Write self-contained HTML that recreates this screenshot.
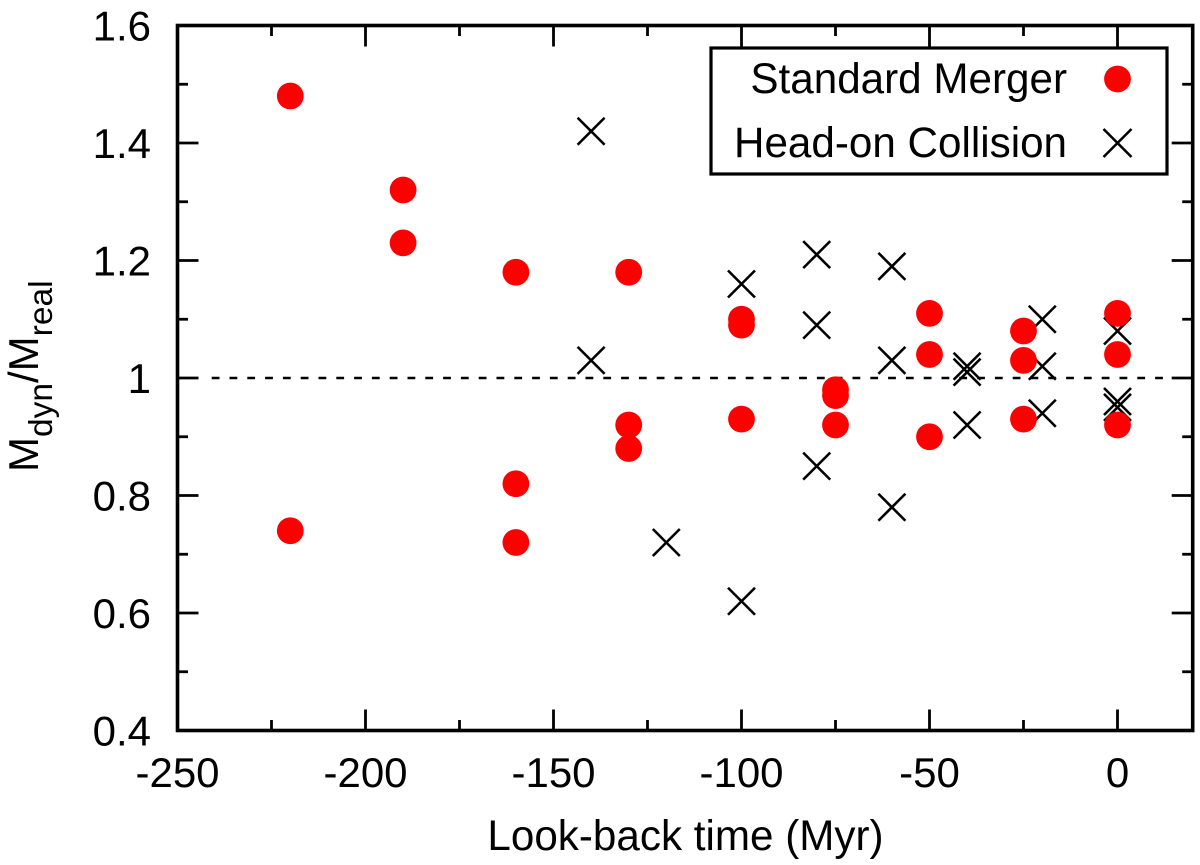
<!DOCTYPE html>
<html lang="en">
<head>
<meta charset="utf-8">
<title>Mdyn/Mreal vs look-back time</title>
<style>
html,body{margin:0;padding:0;background:#fff;}
svg{display:block;}
text{font-family:"Liberation Sans",Arial,Helvetica,sans-serif;fill:#000;}
</style>
</head>
<body>
<svg id="chart" xmlns="http://www.w3.org/2000/svg" width="1200" height="865" viewBox="0 0 1200 865">
  <rect x="0" y="0" width="1200" height="865" fill="#fff"/>
  <g id="ticks"></g>
  <line id="refline" stroke="#000" stroke-width="2.6" stroke-dasharray="7.8 10"/>
  <g id="cross-series"></g>
  <g id="dot-series"></g>
  <rect id="frame" fill="none" stroke="#000" stroke-width="3.6"/>
  <g id="labels" font-size="42"></g>
  <text x="685.5" y="850" font-size="42.2" text-anchor="middle">Look-back time (Myr)</text>
  <text transform="translate(38,472) rotate(-90)" font-size="42">M<tspan font-size="33.5" dy="14">dyn</tspan><tspan dy="-14">/M</tspan><tspan font-size="33.5" dy="14">real</tspan></text>
  <g>
    <rect x="711" y="48" width="456" height="126" fill="#fff" stroke="#000" stroke-width="3.2"/>
    <text x="1067" y="93" font-size="42.2" text-anchor="end">Standard Merger</text>
    <circle cx="1117.5" cy="79" r="13.4" fill="#f00"/>
    <text x="1067" y="157" font-size="42.2" text-anchor="end">Head-on Collision</text>
    <path d="M1103.5 129 L1131.5 157 M1131.5 129 L1103.5 157" stroke="#000" stroke-width="2.6" fill="none"/>
  </g>
</svg>
<script>
const xTickValues = [-250, -200, -150, -100, -50, 0];
const xTickLabels = ["-250", "-200", "-150", "-100", "-50", "0"];
const xMinorValues = [-225, -175, -125, -75, -25];
const yTickValues = [0.4, 0.6, 0.8, 1.0, 1.2, 1.4, 1.6];
const yTickLabels = ["0.4", "0.6", "0.8", "1", "1.2", "1.4", "1.6"];
const yMinorValues = [0.5, 0.7, 0.9, 1.1, 1.3, 1.5];

const mergerTimes = [-220, -220, -190, -190, -160, -160, -160, -130, -130, -130, -100, -100, -100, -75, -75, -75, -50, -50, -50, -25, -25, -25, 0, 0, 0];
const mergerRatios = [1.48, 0.74, 1.32, 1.23, 1.18, 0.82, 0.72, 1.18, 0.92, 0.88, 1.10, 1.09, 0.93, 0.98, 0.97, 0.92, 1.11, 1.04, 0.90, 1.08, 1.03, 0.93, 1.11, 1.04, 0.92];

const collisionTimes = [-140, -140, -120, -100, -100, -80, -80, -80, -60, -60, -60, -40, -40, -40, -20, -20, -20, 0, 0, 0];
const collisionRatios = [1.42, 1.03, 0.72, 1.16, 0.62, 1.21, 1.09, 0.85, 1.19, 1.03, 0.78, 1.02, 1.01, 0.92, 1.10, 1.02, 0.94, 1.08, 0.96, 0.95];

const xDomain = [-250, 20];
const yDomain = [0.4, 1.6];
const referenceRatio = 1;

const plot = { left: 177.5, right: 1192.7, top: 25.5, bottom: 730.5 };
function xScale(v) { return plot.left + (v - xDomain[0]) / (xDomain[1] - xDomain[0]) * (plot.right - plot.left); }
function yScale(v) { return plot.bottom - (v - yDomain[0]) / (yDomain[1] - yDomain[0]) * (plot.bottom - plot.top); }

const NS = "http://www.w3.org/2000/svg";
function make(tag, parent, attrs) {
  const el = document.createElementNS(NS, tag);
  for (const k in attrs) el.setAttribute(k, attrs[k]);
  parent.appendChild(el);
  return el;
}
function tickLine(parent, x1, y1, x2, y2) {
  const el = make("line", parent, { x1: x1, y1: y1, x2: x2, y2: y2, stroke: "#000", "stroke-width": 2.8 });
  
  
}

const frame = document.getElementById("frame");
frame.setAttribute("x", plot.left);
frame.setAttribute("y", plot.top);
frame.setAttribute("width", plot.right - plot.left);
frame.setAttribute("height", plot.bottom - plot.top);

const refline = document.getElementById("refline");
refline.setAttribute("x1", plot.left + 34.2);
refline.setAttribute("x2", plot.right - 21);
refline.setAttribute("y1", yScale(referenceRatio));
refline.setAttribute("y2", yScale(referenceRatio));

const ticks = document.getElementById("ticks");
const labels = document.getElementById("labels");
const majorLen = 21;
const minorLen = 10.5;

xTickValues.forEach(function (v, i) {
  const x = xScale(v);
  tickLine(ticks, x, plot.bottom, x, plot.bottom - majorLen);
  tickLine(ticks, x, plot.top, x, plot.top + majorLen);
  const t = make("text", labels, { x: x, y: 787, "text-anchor": "middle" });
  
  
  t.textContent = xTickLabels[i];
});
xMinorValues.forEach(function (v) {
  const x = xScale(v);
  tickLine(ticks, x, plot.bottom, x, plot.bottom - minorLen);
  tickLine(ticks, x, plot.top, x, plot.top + minorLen);
});
yTickValues.forEach(function (v, i) {
  const y = yScale(v);
  tickLine(ticks, plot.left, y, plot.left + majorLen, y);
  tickLine(ticks, plot.right, y, plot.right - majorLen, y);
  const t = make("text", labels, { x: 151, y: y + 15, "text-anchor": "end" });
  
  
  t.textContent = yTickLabels[i];
});
yMinorValues.forEach(function (v) {
  const y = yScale(v);
  tickLine(ticks, plot.left, y, plot.left + minorLen, y);
  tickLine(ticks, plot.right, y, plot.right - minorLen, y);
});

const crossGroup = document.getElementById("cross-series");
const crossHalf = 13.5;
collisionTimes.forEach(function (t, i) {
  const cx = xScale(t);
  const cy = yScale(collisionRatios[i]);
  const d = "M" + (cx - crossHalf) + " " + (cy - crossHalf) + " L" + (cx + crossHalf) + " " + (cy + crossHalf) +
            " M" + (cx + crossHalf) + " " + (cy - crossHalf) + " L" + (cx - crossHalf) + " " + (cy + crossHalf);
  const el = make("path", crossGroup, { d: d, stroke: "#000", "stroke-width": 2.6, fill: "none" });
  
  
});

const dotGroup = document.getElementById("dot-series");
mergerTimes.forEach(function (t, i) {
  const el = make("circle", dotGroup, { cx: xScale(t), cy: yScale(mergerRatios[i]), r: 13.4, fill: "#f00" });
  
  
});
</script>
</body>
</html>
